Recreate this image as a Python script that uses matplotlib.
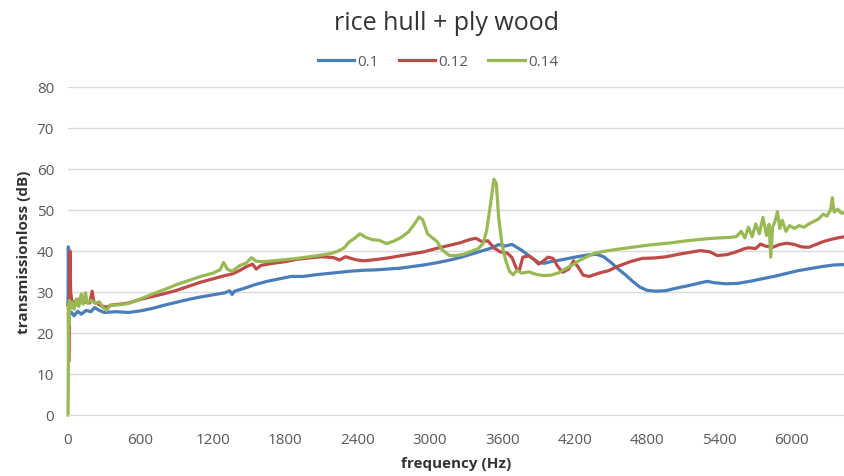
import matplotlib.pyplot as plt
from matplotlib.lines import Line2D

# 0.1
f_01 = [0, 3, 8, 15, 30, 50, 80, 110, 150, 190, 220, 260, 300, 400, 500, 600, 700, 800, 900,
        1000, 1100, 1200, 1300, 1340, 1360, 1380, 1450, 1550, 1650, 1750, 1850, 1950, 2050,
        2150, 2250, 2350, 2450, 2550, 2650, 2750, 2850, 2950, 3050, 3150, 3250, 3350, 3450,
        3520, 3570, 3620, 3680, 3720, 3760, 3800, 3850, 3900, 3950, 4000, 4100, 4200, 4300,
        4380, 4440, 4500, 4560, 4620, 4680, 4740, 4800, 4870, 4950, 5050, 5150, 5250, 5300,
        5350, 5450, 5550, 5650, 5750, 5850, 5950, 6050, 6150, 6250, 6350, 6440]
tl_01 = [27, 41, 30, 24.5, 25, 24.2, 25.3, 24.6, 25.5, 25.2, 26.2, 25.5, 25, 25.2, 25, 25.4,
         26, 26.8, 27.5, 28.2, 28.8, 29.3, 29.8, 30.3, 29.4, 30.2, 30.8, 31.8, 32.6, 33.2,
         33.8, 33.8, 34.2, 34.5, 34.8, 35.1, 35.3, 35.4, 35.6, 35.8, 36.2, 36.6, 37.1, 37.7,
         38.4, 39.3, 40.2, 40.8, 41.6, 41.2, 41.6, 40.9, 40.2, 39.3, 38.2, 37.2, 37.0, 37.4,
         37.9, 38.5, 39.0, 39.2, 38.6, 37.2, 35.6, 34.2, 32.6, 31.2, 30.4, 30.2, 30.3, 31.0,
         31.6, 32.3, 32.6, 32.3, 32.0, 32.1, 32.6, 33.2, 33.8, 34.5, 35.2, 35.7, 36.2, 36.6, 36.7]

# 0.12
f_012 = [0, 3, 6, 10, 16, 22, 30, 45, 60, 80, 100, 120, 150, 180, 200, 215, 240, 280, 320,
         360, 420, 500, 600, 700, 800, 900, 1000, 1100, 1200, 1300, 1360, 1420, 1480, 1530,
         1560, 1600, 1700, 1800, 1900, 2000, 2100, 2200, 2250, 2300, 2380, 2450, 2550, 2650,
         2750, 2850, 2950, 3050, 3150, 3250, 3330, 3380, 3430, 3480, 3530, 3580, 3640, 3680,
         3720, 3740, 3770, 3820, 3860, 3900, 3940, 3980, 4020, 4060, 4100, 4150, 4190, 4230,
         4270, 4320, 4400, 4480, 4560, 4660, 4760, 4860, 4960, 5060, 5160, 5240, 5320, 5380,
         5460, 5540, 5600, 5640, 5700, 5740, 5780, 5840, 5900, 5960, 6020, 6080, 6140, 6200,
         6260, 6320, 6380, 6440]
tl_012 = [27, 27, 13, 22, 40, 30, 28, 27, 27.8, 26.8, 28.5, 27.5, 27.5, 27.3, 30.2, 27.5,
          27.2, 26.6, 26.3, 26.8, 27, 27.3, 28.2, 28.9, 29.6, 30.4, 31.4, 32.4, 33.2, 34,
          34.4, 35.2, 36.2, 36.8, 35.6, 36.5, 37.0, 37.4, 38, 38.3, 38.6, 38.4, 37.8, 38.6,
          37.9, 37.6, 37.9, 38.3, 38.8, 39.3, 39.8, 40.6, 41.3, 42.0, 42.8, 43.1, 42.3, 42.5,
          40.8, 39.8, 39.5, 38.4, 35.5, 35.2, 38.5, 38.8, 38.0, 36.8, 37.6, 38.5, 38.2, 36.2,
          34.8, 35.6, 37.6, 36, 34.1, 33.8, 34.6, 35.2, 36.3, 37.4, 38.2, 38.3, 38.6, 39.2,
          39.7, 40.1, 39.8, 38.9, 39.1, 39.8, 40.5, 40.8, 40.6, 41.7, 41.2, 40.9, 41.6, 41.9,
          41.6, 41.0, 40.9, 41.6, 42.3, 42.8, 43.2, 43.5]

# 0.14
f_014 = [0, 2, 4, 8, 12, 20, 35, 50, 70, 90, 110, 125, 145, 160, 190, 230, 260, 290, 320,
         350, 400, 500, 600, 700, 800, 900, 1000, 1100, 1200, 1260, 1290, 1320, 1360, 1420,
         1480, 1520, 1560, 1620, 1700, 1800, 1900, 2000, 2100, 2180, 2240, 2290, 2330, 2380,
         2420, 2470, 2520, 2580, 2640, 2700, 2760, 2820, 2870, 2910, 2940, 2980, 3020, 3060,
         3100, 3160, 3220, 3280, 3340, 3400, 3440, 3470, 3500, 3530, 3550, 3570, 3600, 3630,
         3660, 3690, 3720, 3760, 3820, 3880, 3940, 4000, 4060, 4120, 4180, 4240, 4300, 4360,
         4420, 4500, 4600, 4700, 4800, 4900, 5000, 5100, 5200, 5300, 5400, 5480, 5540, 5580,
         5610, 5640, 5670, 5700, 5730, 5760, 5790, 5810, 5825, 5840, 5860, 5880, 5900, 5920,
         5950, 5980, 6020, 6060, 6100, 6140, 6180, 6220, 6260, 6290, 6320, 6335, 6350, 6380,
         6410, 6440]
tl_014 = [0, 5, 27, 22, 28, 26, 27.5, 25.8, 28.3, 26.5, 29.5, 27, 29.8, 27.3, 28, 27.2, 27.6,
          26.2, 25.5, 26.8, 26.8, 27.2, 28.3, 29.5, 30.6, 31.8, 32.8, 33.8, 34.6, 35.4, 37.2,
          35.6, 35.0, 36.4, 37.1, 38.4, 37.5, 37.4, 37.6, 37.9, 38.2, 38.6, 39.0, 39.4, 40.0,
          40.8, 42.2, 43.2, 44.2, 43.3, 42.8, 42.6, 41.8, 42.4, 43.3, 44.6, 46.5, 48.3, 47.6,
          44.2, 43.2, 42.3, 40.3, 38.9, 38.9, 39.2, 39.9, 40.6, 41.8, 45, 51, 57.5, 56.5, 48,
          41, 37.5, 35, 34.2, 35.3, 34.6, 34.9, 34.3, 34.0, 34.1, 34.6, 35.6, 36.6, 37.7, 38.6,
          39.4, 39.8, 40.2, 40.6, 41.0, 41.4, 41.7, 42.0, 42.4, 42.7, 43.0, 43.2, 43.3, 43.5,
          44.8, 43.2, 45.8, 43.5, 46.6, 44.2, 48.2, 43.8, 46.5, 38.5, 45.8, 47.2, 49.6, 45.5,
          47.5, 44.8, 46.2, 45.5, 46.2, 45.8, 46.6, 47.2, 47.8, 49.0, 48.5, 50.0, 53.0, 49.5,
          50.2, 49.2, 49.4]

labels = ['0.1', '0.12', '0.14']
colors = ['#4a7ebb', '#be4b48', '#98b954']

plt.rcParams['font.family'] = ['Open Sans', 'DejaVu Sans']

fig = plt.figure(figsize=(8.45, 4.77), dpi=100)
ax = fig.add_axes([68 / 845, 61 / 477, 777 / 845, 328 / 477])

series = [(f_01, tl_01), (f_012, tl_012), (f_014, tl_014)]
for (f, tl), lab, c in zip(series, labels, colors):
    ax.plot(f, tl, color=c, lw=2.3, label=lab, solid_joinstyle='round', clip_on=False)

ax.set_xlim(0, 6440)
ax.set_ylim(0, 80)
ax.set_xticks(range(0, 6001, 600))
ax.set_yticks(range(0, 81, 10))
ax.yaxis.grid(True, color='#d9d9d9', lw=1)
ax.set_axisbelow(True)
for s in ['top', 'right', 'left']:
    ax.spines[s].set_visible(False)
ax.spines['bottom'].set_color('#d9d9d9')
ax.tick_params(length=0, labelsize=11, labelcolor='#595959')
ax.tick_params(axis='x', pad=12)
ax.tick_params(axis='y', pad=10)

ax.set_xlabel('frequency (Hz)', fontsize=11, fontweight='bold', color='#333333', labelpad=7)
ax.set_ylabel('transmissionloss (dB)', fontsize=11, fontweight='bold', color='#333333', labelpad=4)

fig.text(447 / 845, 1 - 24 / 477, 'rice hull + ply wood', ha='center', va='center',
         fontsize=18, color='#333333')

handles = [Line2D([], [], color=c, lw=2.3) for c in colors]
fig.legend(handles, labels, loc='center', bbox_to_anchor=(438 / 845, 1 - 63 / 477), ncol=3,
           frameon=False, fontsize=11, handlelength=2.4, handletextpad=0.2, columnspacing=1.3,
           labelcolor='#595959')

fig.savefig('out.png')
